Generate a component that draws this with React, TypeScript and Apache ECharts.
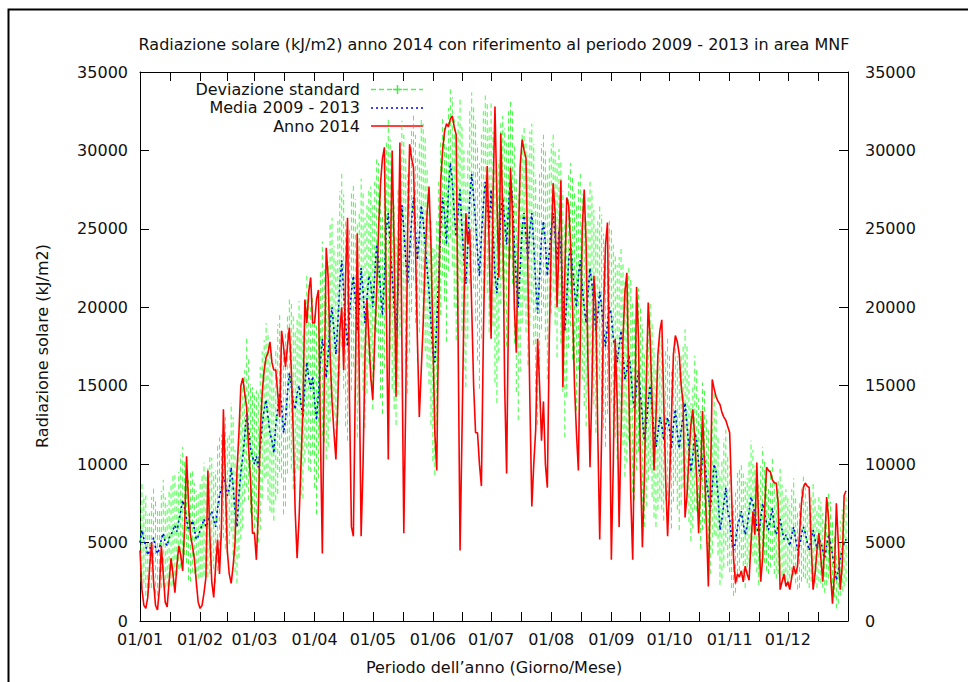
import React, { useEffect, useRef } from "react";
import * as echarts from "echarts";

const monthStarts = [0, 31, 59, 90, 120, 151, 181, 212, 243, 273, 304, 334];
const monthLabels = ["01/01", "01/02", "01/03", "01/04", "01/05", "01/06", "01/07", "01/08", "01/09", "01/10", "01/11", "01/12"];
const yTicks = [0, 5000, 10000, 15000, 20000, 25000, 30000, 35000];

// Anno 2014 (kJ/m2), one value per day
const anno2014 = [
  // Jan
  4500, 2000, 1000, 800, 1500, 3500, 5000, 2500, 1000, 700, 2000, 4800, 3000, 1200, 900, 2500, 4000, 3000, 1800, 3500, 4800, 4200, 3200, 6000, 10500, 7500, 5500, 4800, 4000, 2500, 1200,
  // Feb
  800, 1000, 1800, 2800, 9600, 5500, 2500, 1500, 3500, 5200, 3000, 6000, 13500, 9000, 4500, 3000, 2400, 3500, 5000, 9600, 12000, 15000, 15500, 14500, 13600, 11000, 9000, 5600,
  // Mar
  5600, 3900, 7000, 12000, 14500, 16000, 16800, 17100, 17800, 16500, 16000, 16000, 14500, 13000, 18500, 17500, 16200, 17500, 18700, 16000, 12000, 7000, 4000, 6500, 10000, 13600, 20500, 19000, 21000, 21900, 19000,
  // Apr
  19000, 20500, 21100, 12000, 4300, 15000, 23800, 21900, 17000, 14000, 12000, 10300, 14000, 18500, 20000, 16000, 22000, 25700, 14000, 6000, 5400, 15000, 24700, 16000, 5400, 10000, 17000, 20500, 18000, 15500,
  // May
  14100, 18000, 21000, 25000, 27900, 29500, 30200, 20000, 10300, 22000, 30000, 24000, 14300, 22000, 30500, 18000, 5600, 14000, 25000, 30400, 29500, 28900, 24000, 18000, 13000, 16000, 19000, 23000, 26000, 27700, 24000,
  // Jun
  18000, 12000, 9600, 20000, 28000, 30000, 31200, 31700, 31500, 32000, 32200, 31500, 31000, 18000, 4500, 12000, 20000, 26000, 24000, 25000, 20000, 15000, 12000, 12000, 10000, 8600, 18000, 25000, 29000, 24000,
  // Jul
  18000, 27000, 32800, 27000, 21900, 31100, 26000, 15000, 9400, 20000, 28900, 26000, 20000, 17100, 24000, 29000, 30700, 30000, 29500, 22000, 14000, 7300, 10000, 12200, 18000, 15000, 11500, 14000, 10000, 8500, 18000,
  // Aug
  24000, 27900, 26000, 20000, 24000, 28100, 14900, 22000, 27000, 26500, 24000, 20000, 15000, 12000, 9600, 18000, 25000, 27500, 24000, 16000, 9800, 15000, 22000, 20000, 12000, 5200, 12000, 20000, 24000, 25400, 15000,
  // Sep
  3900, 10000, 18000, 14000, 6000, 12000, 18000, 21000, 22200, 15000, 8000, 3900, 12000, 21300, 18000, 10000, 4700, 9000, 15000, 20300, 18000, 14000, 9600, 13000, 17000, 18500, 19200, 14000, 9000, 5400,
  // Oct
  8800, 13000, 17000, 18200, 17800, 17000, 15000, 13900, 6600, 8000, 10500, 12500, 13500, 11700, 9000, 5600, 9000, 13400, 10000, 6200, 2200, 8000, 15400, 14800, 14300, 14000, 13800, 13300, 13000, 12800, 12400,
  // Nov
  12000, 8000, 4000, 2400, 3000, 2800, 3200, 2500, 3500, 3000, 2600, 5000, 7000, 5500, 10100, 6000, 2500, 4000, 7000, 9800, 9600, 9500, 9000, 8800, 8800, 7500, 2000, 2500, 3000, 2200,
  // Dec
  2500, 2000, 2800, 3500, 3000, 3500, 5500, 7500, 8500, 8800, 8600, 8500, 5000, 2000, 3000, 4500, 5600, 4000, 2500, 5000, 7900, 6500, 3000, 1100, 3000, 7500, 5000, 2000, 3500, 8000, 8300,
];

// Media 2009 - 2013 (kJ/m2)
const media = [
  // Jan
  5000, 5800, 5200, 4800, 4200, 4500, 5000, 5300, 4700, 4300, 4600, 5200, 5600, 5000, 4800, 5300, 5500, 5800, 6100, 5700, 6400, 7000, 7700, 7200, 6500, 5800, 6000, 6400, 5900, 5200, 5400,
  // Feb
  5800, 6100, 6500, 6000, 6300, 6800, 7000, 6400, 6000, 7200, 8000, 8500, 9200, 8800, 8000, 8400, 9800, 8600, 7000, 6000, 8000, 9500, 10500, 11800, 13300, 12200, 11000, 10500,
  // Mar
  10000, 10500, 9800, 11000, 12500, 13500, 14100, 13000, 12000, 11500, 10700, 12500, 13500, 14500, 13800, 12000, 12800, 14500, 15800, 15000, 14000, 13500, 14500, 15000, 13800, 13000, 15000, 16500, 15500, 14800, 15600,
  // Apr
  14000, 12800, 14500, 16500, 18000, 17000, 15500, 17000, 19000, 20000, 18500, 17000, 19000, 21500, 23000, 21000, 19000, 17500, 19500, 21000, 22000, 20500, 18500, 20000, 22500, 21000, 19000, 20500, 22000, 21500,
  // May
  20000, 22000, 24000, 23000, 21000, 19500, 22000, 25000, 26000, 24000, 22000, 20000, 18500, 21000, 24000, 26500, 25000, 23000, 21500, 23500, 25500, 27000, 25000, 23000, 24500, 26500, 25500, 24000, 22500, 21000, 19000,
  // Jun
  17000, 16500, 19000, 22000, 25000, 27000, 26000, 24000, 27500, 29200, 28000, 26000, 24500, 26000, 27500, 25000, 23000, 21500, 24000, 27000, 28500, 27000, 25500, 23500, 22000, 24500, 26500, 28000, 27000, 25000,
  // Jul
  27500, 25000, 22000, 20900, 23000, 26000, 27000, 25500, 24000, 26500, 28100, 27000, 24000, 21500, 20000, 22500, 25000, 26000, 24500, 23000, 25000, 26000, 24000, 21500, 19600, 22000, 24500, 25500, 24000, 22000, 23500,
  // Aug
  25000, 26000, 24500, 23000, 24900, 23500, 21000, 18500, 20500, 23000, 24000, 22500, 21000, 20000, 22000, 23000, 21300, 20000, 19000, 21000, 22500, 21500, 20000, 18500, 19500, 21000, 20000, 18500, 17500, 19000, 20000,
  // Sep
  19500, 18000, 17500, 16500, 17500, 18500, 17000, 15400, 16000, 17000, 16000, 14300, 13500, 15000, 16000, 14500, 13000, 11500, 12500, 14000, 15000, 13500, 12000, 11100, 12000, 13000, 12500, 11500, 12500, 13000,
  // Oct
  12200, 11000, 12500, 13500, 12000, 11000, 12200, 13000, 13900, 12500, 11000, 9500, 10500, 12000, 11500, 10000, 9000, 10500, 10500, 9000, 8000, 7000, 8500, 10000, 9500, 8000, 5800, 6500, 7500, 8500, 7000,
  // Nov
  6500, 5200, 4500, 5000, 6000, 6500, 7000, 6200, 5500, 6000, 7000, 7900, 7500, 6800, 6000, 5500, 6500, 7500, 7000, 6200, 5800, 6500, 7200, 6000, 5500, 6000, 6500, 5800, 5200, 5500,
  // Dec
  5200, 4800, 5500, 6000, 5200, 4500, 4800, 5500, 6000, 5600, 5000, 4500, 5200, 5800, 5200, 4600, 5200, 5000, 4500, 4000, 4800, 5500, 5000, 4200, 3500, 2600, 3200, 4000, 4500, 5000, 5200,
];

// Deviazione standard 2009 - 2013 (kJ/m2)
const devStd = [
  // Jan
  2500, 3000, 2800, 3200, 2600, 2400, 2900, 3300, 3000, 2700, 2500, 3100, 3400, 2900, 2600, 3000, 3300, 3500, 3200, 2800, 3100, 3600, 3400, 3000, 2800, 3200, 3500, 3300, 2900, 3100, 2700,
  // Feb
  3000, 3300, 3600, 3200, 3500, 3800, 3400, 3100, 3600, 4000, 3700, 3400, 3900, 4200, 3800, 3500, 4100, 4400, 3900, 3600, 4000, 4300, 4600, 4200, 4800, 4500, 4100, 4400,
  // Mar
  4600, 4200, 4800, 5200, 4700, 4400, 4900, 5300, 5000, 4600, 4300, 4800, 5400, 5000, 4700, 5200, 5500, 5100, 4800, 5300, 5600, 5100, 4800, 5400, 5800, 5200, 4900, 5500, 5900, 5300, 5000,
  // Apr
  5500, 6000, 5400, 5800, 6200, 5600, 5200, 5900, 6300, 5700, 5400, 6100, 6500, 5900, 5500, 6200, 6600, 6000, 5600, 6300, 5800, 6400, 6800, 6100, 5700, 6300, 6700, 6000, 5600, 6200,
  // May
  6500, 6000, 5600, 6200, 6800, 6300, 5900, 5500, 6100, 6700, 7200, 6500, 6000, 6600, 5800, 5400, 6000, 6600, 7000, 6400, 5800, 5300, 6000, 6500, 6100, 5600, 6200, 6800, 6300, 5900, 6500,
  // Jun
  6800, 7200, 6500, 6000, 5500, 5000, 5600, 6200, 5200, 4800, 5400, 6000, 6600, 6200, 5800, 6500, 7000, 6600, 6000, 5500, 5200, 5800, 6400, 6900, 7200, 6500, 6000, 5500, 6100, 6600,
  // Jul
  5500, 6200, 6800, 7000, 6400, 5800, 5200, 5900, 6500, 6000, 5000, 5500, 6300, 6900, 7200, 6600, 6000, 5600, 6100, 6700, 6200, 5700, 6400, 6900, 7100, 6500, 5900, 5500, 6100, 6600, 6000,
  // Aug
  5400, 5000, 5600, 6200, 5200, 5800, 6400, 6800, 6200, 5600, 5200, 5800, 6300, 6600, 6000, 5500, 5900, 6300, 6600, 6000, 5500, 5900, 6200, 6500, 6000, 5600, 5900, 6200, 6400, 5800, 5500,
  // Sep
  5600, 6000, 5800, 6200, 5700, 5300, 5800, 6200, 5900, 5500, 5800, 6100, 5800, 5400, 5200, 5600, 5900, 5500, 5200, 5000, 5300, 5600, 5400, 5100, 4900, 5200, 5400, 5100, 4800, 5000,
  // Oct
  4800, 5100, 4900, 4600, 4900, 5200, 4800, 4500, 4700, 5000, 4700, 4400, 4600, 4900, 4500, 4200, 4400, 4700, 4300, 4100, 4300, 4000, 4200, 4500, 4100, 3800, 3500, 3800, 4100, 3700, 3500,
  // Nov
  3400, 3100, 2900, 3200, 3500, 3300, 3000, 3200, 3400, 3100, 3300, 3600, 3400, 3100, 2900, 3200, 3400, 3600, 3300, 3000, 2800, 3100, 3300, 3000, 2800, 3000, 3200, 2900, 2700, 2900,
  // Dec
  2800, 2600, 2900, 3100, 2800, 2500, 2700, 3000, 3200, 2900, 2600, 2400, 2700, 3000, 2800, 2500, 2700, 2600, 2400, 2200, 2500, 2800, 2600, 2300, 2000, 1800, 2100, 2400, 2600, 2800, 2700,
];

const FONT = "DejaVu Sans";
const GREEN = "#00ff00";
const TEXT = "#111";

export default function App() {
  const ref = useRef<HTMLDivElement>(null);

  useEffect(() => {
    const chart = echarts.init(ref.current!, null, { renderer: "svg" });
    const minorTicks = monthStarts.map((s, i) => (s + (i < 11 ? monthStarts[i + 1] : 365)) / 2);
    const tickVals = [...monthStarts, ...minorTicks].sort((a, b) => a - b);

    const redData = anno2014.map((v, i) => [i, v]);
    const meanData = media.map((v, i) => [i, v]);
    const errData = media.map((v, i) => [i, v - devStd[i], v + devStd[i]]);

    const xCommon = {
      type: "value" as const,
      min: 0,
      max: 365,
      axisLine: { show: true, onZero: false, lineStyle: { color: "#000", width: 1 } },
      axisTick: { show: true, inside: true, length: 9, customValues: tickVals, lineStyle: { color: "#000" } },
      splitLine: { show: false },
    };
    const yCommon = {
      type: "value" as const,
      min: 0,
      max: 35000,
      interval: 5000,
      axisLine: { show: true, onZero: false, lineStyle: { color: "#000", width: 1 } },
      axisTick: { show: true, inside: true, length: 9, lineStyle: { color: "#000" } },
      splitLine: { show: false },
    };
    const yFmt = (v: number) => String(Math.round(v));

    chart.setOption({
      animation: false,
      backgroundColor: "#fff",
      textStyle: { fontFamily: FONT },
      grid: { left: 140, right: 120, top: 72, bottom: 61 },
      xAxis: [
        {
          ...xCommon,
          position: "bottom",
          axisLabel: {
            show: true,
            customValues: monthStarts,
            margin: 10,
            fontSize: 16,
            fontFamily: FONT,
            color: TEXT,
            formatter: (v: number) => monthLabels[monthStarts.indexOf(v)] ?? "",
          },
        },
        { ...xCommon, position: "top", axisLabel: { show: false } },
      ],
      yAxis: [
        {
          ...yCommon,
          position: "left",
          axisLabel: { show: true, margin: 12, fontSize: 16, fontFamily: FONT, color: TEXT, customValues: yTicks, formatter: yFmt },
        },
        {
          ...yCommon,
          position: "right",
          axisLabel: { show: true, margin: 17, fontSize: 16, fontFamily: FONT, color: TEXT, align: "left", customValues: yTicks, formatter: yFmt },
        },
      ],
      series: [
        {
          type: "custom",
          name: "Deviazione standard",
          data: errData,
          encode: { x: 0, y: [1, 2] },
          clip: true,
          z: 1,
          renderItem: (_params: any, api: any) => {
            const x = api.value(0);
            const p1 = api.coord([x, api.value(1)]);
            const p2 = api.coord([x, api.value(2)]);
            return {
              type: "line",
              shape: { x1: p1[0], y1: p1[1], x2: p2[0], y2: p2[1] },
              style: { stroke: GREEN, fill: null, lineWidth: 1, lineDash: [5, 3], opacity: 0.75 },
            };
          },
        },
        {
          type: "line",
          name: "Deviazione standard (media)",
          data: meanData,
          showSymbol: false,
          z: 2,
          lineStyle: { color: GREEN, width: 1, type: [5, 3], opacity: 0.75 },
        },
        {
          type: "line",
          name: "Media 2009 - 2013",
          data: meanData,
          showSymbol: false,
          z: 3,
          lineStyle: { color: "#0000ff", width: 1.6, type: [2, 3] },
        },
        {
          type: "line",
          name: "Anno 2014",
          data: redData,
          showSymbol: false,
          z: 4,
          lineStyle: { color: "#ff0000", width: 1.6 },
        },
      ],
      graphic: [
        {
          type: "rect",
          silent: true,
          shape: { x: 8.5, y: 9.5, width: 1200, height: 1200 },
          style: { fill: "none", stroke: "#000", lineWidth: 2 },
        },
        {
          type: "text",
          x: 494,
          y: 44,
          style: {
            text: "Radiazione solare (kJ/m2) anno 2014 con riferimento al periodo 2009 - 2013 in area MNF",
            font: `16px "${FONT}"`,
            fill: TEXT,
            textAlign: "center",
            textVerticalAlign: "middle",
          },
        },
        {
          type: "text",
          x: 42,
          y: 346,
          rotation: Math.PI / 2,
          style: {
            text: "Radiazione solare (kJ/m2)",
            font: `16px "${FONT}"`,
            fill: TEXT,
            textAlign: "center",
            textVerticalAlign: "middle",
          },
        },
        {
          type: "text",
          x: 494,
          y: 667,
          style: {
            text: "Periodo dell’anno (Giorno/Mese)",
            font: `16px "${FONT}"`,
            fill: TEXT,
            textAlign: "center",
            textVerticalAlign: "middle",
          },
        },
        // legend
        {
          type: "text",
          x: 360,
          y: 89,
          style: { text: "Deviazione standard", font: `16px "${FONT}"`, fill: TEXT, textAlign: "right", textVerticalAlign: "middle" },
        },
        {
          type: "text",
          x: 360,
          y: 107,
          style: { text: "Media 2009 - 2013", font: `16px "${FONT}"`, fill: TEXT, textAlign: "right", textVerticalAlign: "middle" },
        },
        {
          type: "text",
          x: 360,
          y: 126,
          style: { text: "Anno 2014", font: `16px "${FONT}"`, fill: TEXT, textAlign: "right", textVerticalAlign: "middle" },
        },
        {
          type: "line",
          shape: { x1: 371, y1: 89.5, x2: 423, y2: 89.5 },
          style: { stroke: "#55ee55", fill: null, lineWidth: 1.5, lineDash: [5, 3] },
        },
        {
          type: "line",
          shape: { x1: 393, y1: 89.5, x2: 402, y2: 89.5 },
          style: { stroke: "#44ee44", fill: null, lineWidth: 1.5 },
        },
        {
          type: "line",
          shape: { x1: 397.5, y1: 85, x2: 397.5, y2: 94 },
          style: { stroke: "#44ee44", fill: null, lineWidth: 1.5 },
        },
        {
          type: "line",
          shape: { x1: 371, y1: 108, x2: 423, y2: 108 },
          style: { stroke: "#0000ff", fill: null, lineWidth: 1.6, lineDash: [2, 3] },
        },
        {
          type: "line",
          shape: { x1: 371, y1: 126, x2: 423, y2: 126 },
          style: { stroke: "#ff0000", fill: null, lineWidth: 1.6 },
        },
      ],
    });

    return () => chart.dispose();
  }, []);

  return (
    <div
      ref={ref}
      style={{ position: "absolute", left: 0, top: 0, width: 968, height: 682, background: "#fff" }}
    />
  );
}
